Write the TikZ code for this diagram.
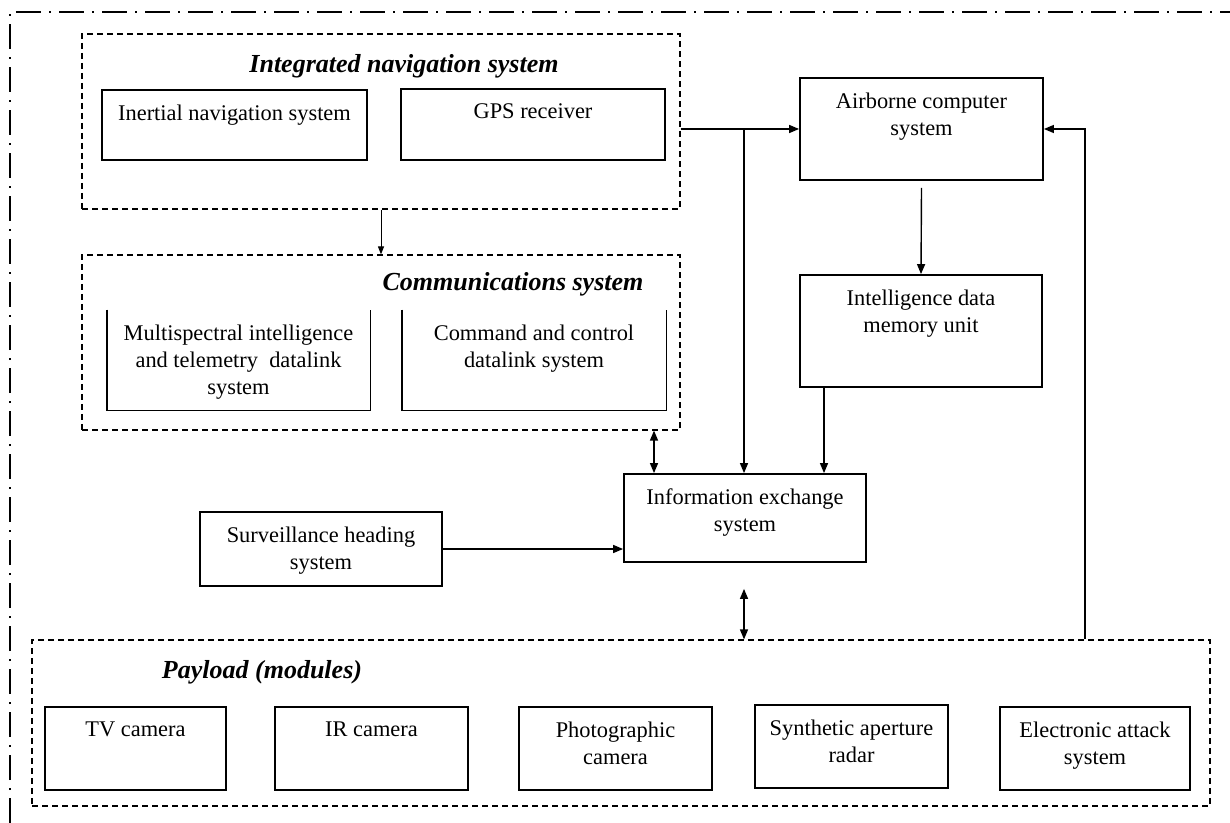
\documentclass[tikz,border=0pt]{standalone}
\usepackage{fontspec}
\setmainfont{Liberation Serif}
\usepackage{tikz}
\usetikzlibrary{arrows.meta,positioning}

\begin{document}
\begin{tikzpicture}[
    x=0.5pt, y=-0.5pt,
    every node/.style={font=\fontsize{11.2}{13.5}\selectfont, inner sep=0pt},
    unit/.style={rectangle, draw, line width=0.9pt},
    openunit/.style={rectangle},
    group/.style={rectangle, draw, dashed, dash pattern=on 3pt off 2pt, line width=0.6pt},
    toptext/.style={label={[anchor=north, yshift=-7.5pt, align=center]north:{#1}}},
    grouptitle/.style={font=\fontsize{13}{15}\selectfont\bfseries\itshape},
    frame/.style={line width=1.3pt, dash pattern=on 12.5pt off 4pt on 1pt off 4pt},
    flow/.style={->, line width=0.7pt, >={Triangle[length=5pt,width=4pt]}},
    thinflow/.style={->, line width=0.5pt, >={Triangle[length=4pt,width=3pt]}},
    dflow/.style={<->, line width=0.7pt, >={Triangle[length=5pt,width=4pt]}}
]
\useasboundingbox (0,0) rectangle (1230,823);

% Outer frame
\draw[frame] (10,823) -- (10,12) -- (1230,12);

% Integrated navigation system
\node[group, minimum width=299pt, minimum height=87.5pt] (nav) at (381,121.5) {};
\node[grouptitle] (navtitle) at (404,66) {Integrated navigation system};
\node[unit, minimum width=132.5pt, minimum height=35pt, toptext={Inertial navigation system}] (ins) at (234.5,125) {};
\node[unit, minimum width=132pt, minimum height=35.5pt, toptext={GPS receiver}] (gps) at (533,124.5) {};

% Communications system
\node[group, minimum width=299pt, minimum height=87.5pt] (comm) at (381,342.5) {};
\node[grouptitle] (commtitle) at (513,284) {Communications system};
\node[openunit, minimum width=131.5pt, minimum height=50pt, toptext={Multispectral intelligence\\and telemetry~ datalink\\system}] (msi) at (238.5,360) {};
\node[openunit, minimum width=132pt, minimum height=50pt, toptext={Command and control\\datalink system}] (cmd) at (534,360) {};
\draw[line width=0.9pt] (msi.north west) |- (msi.south east) -- (msi.north east);
\draw[line width=0.9pt] (cmd.north west) |- (cmd.south east) -- (cmd.north east);

% Computer, memory and exchange
\node[unit, minimum width=121.5pt, minimum height=51pt, toptext={Airborne computer\\system}] (acs) at (921.5,129) {};
\node[unit, minimum width=121pt, minimum height=56pt, toptext={Intelligence data\\memory unit}] (idm) at (921,331) {};
\node[unit, minimum width=121pt, minimum height=44pt, toptext={Information exchange\\system}] (ies) at (745,518) {};
\node[unit, minimum width=121pt, minimum height=37pt, toptext={Surveillance heading\\system}] (shs) at (321,549) {};

% Payload (modules)
\node[group, minimum width=589pt, minimum height=83pt] (pay) at (621,723) {};
\node[grouptitle] (paytitle) at (262,672) {Payload (modules)};
\node[unit, minimum width=90.5pt, minimum height=41.5pt, toptext={TV camera}] (tv) at (135.5,748.5) {};
\node[unit, minimum width=96.5pt, minimum height=41.5pt, toptext={IR camera}] (ir) at (371.5,748.5) {};
\node[unit, minimum width=96.5pt, minimum height=41.5pt, toptext={Photographic\\camera}] (photo) at (615.5,748.5) {};
\node[unit, minimum width=96.5pt, minimum height=41.5pt, toptext={Synthetic aperture\\radar}] (sar) at (851.5,746.5) {};
\node[unit, minimum width=95pt, minimum height=41.5pt, toptext={Electronic attack\\system}] (eas) at (1095,748.5) {};

% Tap points
\coordinate (split) at (744,129);
\coordinate (memdrop) at (824,0);
\coordinate (commlink) at (654,0);
\coordinate (back) at (1085,0);

% Flows
\draw[thinflow] (nav.south) -- (comm.north);
\draw[flow] (nav.east |- acs.west) -- (acs.west);
\draw[flow] (split) -- (split |- ies.north);
\draw[flow] ([yshift=-3.5pt]acs.south) -- (idm.north);
\draw[flow] (idm.south -| memdrop) -- (ies.north -| memdrop);
\draw[dflow] (comm.south -| commlink) -- (ies.north -| commlink);
\draw[flow] (shs.east) -- (shs.east -| ies.west);
\draw[dflow] ([yshift=-13pt]ies.south -| split) -- (pay.north -| split);

% Feedback to the computer
\draw[flow] (pay.north -| back) |- (acs.east);

\end{tikzpicture}
\end{document}
